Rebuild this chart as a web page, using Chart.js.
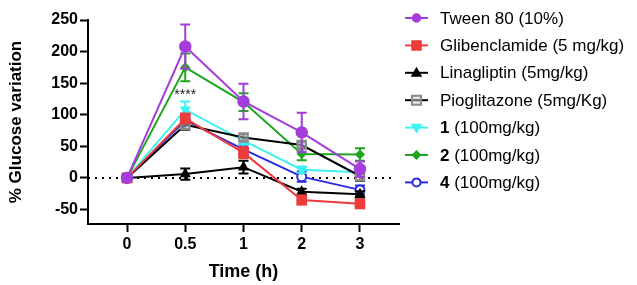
<!DOCTYPE html>
<html lang="en">
<head>
  <meta charset="UTF-8">
  <title>% Glucose variation</title>
  <script src="https://cdn.jsdelivr.net/npm/chart.js"></script>
  <style>
    html, body { margin: 0; padding: 0; background: #fff; }
    #wrap { width: 637px; height: 285px; position: relative; }
  </style>
</head>
<body>
  <div id="wrap"><canvas id="glucoseChart" width="637" height="285"></canvas></div>
  <script>
    // time points (category labels on x)
    const timeLabels = ['0', '0.5', '1', '2', '3'];
    const yTickValues = [-50, 0, 50, 100, 150, 200, 250];

    // mean values
    const tween = [0, 208, 121, 72, 14];
    const glib  = [0, 94, 40, -35, -41];
    const lina  = [0, 6, 17, -22, -26];
    const pio   = [0, 84, 64, 52, 3];
    const cmp1  = [0, 108, 59, 13, 9];
    const cmp2  = [0, 175, 120, 38, 37];
    const cmp4  = [0, 91, 45, 2, -19];

    // SEM
    const tweenErr = [4, 35, 28, 31, 12];
    const glibErr  = [3, 8, 9, 7, 4];
    const linaErr  = [2, 9, 10, 5, 5];
    const pioErr   = [3, 8, 5, 5, 8];
    const cmp1Err  = [2, 13, 6, 5, 4];
    const cmp2Err  = [2, 22, 14, 10, 10];
    const cmp4Err  = [2, 8, 8, 8, 7];

    const seriesNames = ['Tween 80 (10%)', 'Glibenclamide (5 mg/kg)', 'Linagliptin (5mg/kg)',
      'Pioglitazone (5mg/Kg)', '1 (100mg/kg)', '2 (100mg/kg)', '4 (100mg/kg)'];

    function pts(arr) { return arr.map((v, i) => ({ x: i, y: v })); }

    function mkSet(label, values, errs, color, extra) {
      return Object.assign({
        label: label,
        data: pts(values),
        errs: errs,
        borderColor: color,
        backgroundColor: color,
        pointBorderColor: color,
        pointBackgroundColor: color,
        borderWidth: 2,
        pointRadius: 5,
        pointBorderWidth: 1.5,
        tension: 0
      }, extra || {});
    }

    const datasets = [
      mkSet(seriesNames[0], tween, tweenErr, '#A43DDB', { pointStyle: 'circle', pointRadius: 5.5 }),
      mkSet(seriesNames[1], glib, glibErr, '#EE3B3B', { pointStyle: 'rect', pointRadius: 6.5 }),
      mkSet(seriesNames[2], lina, linaErr, '#000000', { pointStyle: 'triangle', pointRadius: 5 }),
      mkSet(seriesNames[3], pio, pioErr, '#000000', { pointStyle: 'rect', pointRadius: 6,
        pointBorderColor: '#8a8a8a', pointBackgroundColor: 'rgba(200,200,200,0.5)', pointBorderWidth: 2, errColor: '#555' }),
      mkSet(seriesNames[4], cmp1, cmp1Err, '#3CF2F2', { pointStyle: 'triangle', rotation: 180, pointRadius: 5 }),
      mkSet(seriesNames[5], cmp2, cmp2Err, '#1FA51F', { pointStyle: 'rectRot', pointRadius: 4 }),
      mkSet(seriesNames[6], cmp4, cmp4Err, '#2B2BE6', { pointStyle: 'circle', pointRadius: 4.5,
        pointBackgroundColor: '#ffffff', pointBorderWidth: 2 })
    ];

    // error bars, drawn under each dataset's own line and markers
    const errorBars = {
      id: 'errorBars',
      beforeDatasetDraw(chart, args) {
        const ds = chart.data.datasets[args.index];
        const x = chart.scales.x, y = chart.scales.y;
        const ctx = chart.ctx;
        ctx.save();
        ctx.strokeStyle = ds.errColor || ds.borderColor;
        ctx.lineWidth = 2;
        ds.data.forEach((p, i) => {
          const e = ds.errs[i];
          if (!e) return;
          const px = x.getPixelForValue(p.x);
          const top = y.getPixelForValue(p.y + e);
          const bot = y.getPixelForValue(p.y - e);
          ctx.beginPath();
          ctx.moveTo(px, top); ctx.lineTo(px, bot);
          ctx.moveTo(px - 5, top); ctx.lineTo(px + 5, top);
          ctx.moveTo(px - 5, bot); ctx.lineTo(px + 5, bot);
          ctx.stroke();
        });
        ctx.restore();
      }
    };

    // dotted zero line
    const zeroLine = {
      id: 'zeroLine',
      beforeDatasetsDraw(chart) {
        const ctx = chart.ctx, y = chart.scales.y.getPixelForValue(0);
        ctx.save();
        ctx.strokeStyle = '#000';
        ctx.lineWidth = 2;
        ctx.setLineDash([2, 5]);
        ctx.beginPath();
        ctx.moveTo(chart.chartArea.left, y);
        ctx.lineTo(chart.chartArea.right - 6, y);
        ctx.stroke();
        ctx.restore();
      }
    };

    // "****" above the 0.5 h point
    const sigMark = {
      id: 'sigMark',
      afterDatasetsDraw(chart) {
        const ctx = chart.ctx;
        ctx.save();
        ctx.fillStyle = '#222';
        ctx.font = '14px "Liberation Sans", Arial, sans-serif';
        ctx.textAlign = 'center';
        ctx.textBaseline = 'middle';
        ctx.fillText('****', chart.scales.x.getPixelForValue(1), chart.scales.y.getPixelForValue(136) + 3);
        ctx.restore();
      }
    };

    function drawMarker(ctx, ds, cx, cy) {
      const r = ds.pointRadius;
      ctx.fillStyle = ds.pointBackgroundColor;
      ctx.strokeStyle = ds.pointBorderColor;
      ctx.lineWidth = ds.pointBorderWidth;
      ctx.beginPath();
      if (ds.pointStyle === 'circle') {
        ctx.arc(cx, cy, 4, 0, Math.PI * 2);
      } else if (ds.pointStyle === 'rect') {
        const s = 4.5;
        ctx.rect(cx - s, cy - s, 2 * s, 2 * s);
      } else if (ds.pointStyle === 'rectRot') {
        ctx.moveTo(cx, cy - r); ctx.lineTo(cx + r, cy); ctx.lineTo(cx, cy + r); ctx.lineTo(cx - r, cy);
        ctx.closePath();
      } else if (ds.pointStyle === 'triangle') {
        const d = ds.rotation === 180 ? -1 : 1;
        const s = r * 0.9;
        ctx.moveTo(cx, cy - d * s); ctx.lineTo(cx + s, cy + d * s * 0.7); ctx.lineTo(cx - s, cy + d * s * 0.7);
        ctx.closePath();
      }
      ctx.fill();
      ctx.stroke();
    }

    // legend on the right, with bold compound numbers
    const sideLegend = {
      id: 'sideLegend',
      afterDraw(chart) {
        const ctx = chart.ctx;
        const x0 = 405, x1 = 428, tx = 440, y0 = 18, step = 27.4;
        ctx.save();
        chart.data.datasets.forEach((ds, i) => {
          const cy = y0 + i * step;
          ctx.strokeStyle = ds.borderColor;
          ctx.lineWidth = 2;
          ctx.beginPath(); ctx.moveTo(x0, cy); ctx.lineTo(x1, cy); ctx.stroke();
          drawMarker(ctx, ds, (x0 + x1) / 2, cy);
          ctx.fillStyle = '#000';
          ctx.textBaseline = 'middle';
          ctx.textAlign = 'left';
          const m = ds.label.match(/^(\d)( .*)$/);
          if (m) {
            ctx.font = 'bold 17px "Liberation Sans", Arial, sans-serif';
            ctx.fillText(m[1], tx, cy + 1);
            const w = ctx.measureText(m[1]).width;
            ctx.font = '17px "Liberation Sans", Arial, sans-serif';
            ctx.fillText(m[2], tx + w, cy + 1);
          } else {
            ctx.font = '17px "Liberation Sans", Arial, sans-serif';
            ctx.fillText(ds.label, tx, cy + 1);
          }
        });
        ctx.restore();
      }
    };

    const tickFont = { family: '"Liberation Sans", Arial, sans-serif', size: 16, weight: 'bold' };

    new Chart(document.getElementById('glucoseChart'), {
      type: 'line',
      data: { datasets: datasets },
      plugins: [zeroLine, errorBars, sigMark, sideLegend],
      options: {
        responsive: false,
        animation: false,
        layout: { padding: { top: 20, right: 238, left: 4, bottom: 2 } },
        plugins: { legend: { display: false }, tooltip: { enabled: false } },
        scales: {
          x: {
            type: 'linear',
            min: -0.67,
            max: 4.67,
            afterBuildTicks: axis => { axis.ticks = timeLabels.map((_, i) => ({ value: i })); },
            afterFit: axis => { axis.height = 59; },
            ticks: { color: '#000', font: tickFont, padding: 3, callback: v => timeLabels[v] },
            grid: { drawOnChartArea: false, drawTicks: true, tickLength: 8, tickWidth: 2, tickColor: '#000' },
            border: { display: true, width: 2, color: '#000' },
            title: { display: true, text: 'Time (h)', color: '#000',
              font: { family: '"Liberation Sans", Arial, sans-serif', size: 18, weight: 'bold' }, padding: { top: 0, bottom: 0 } }
          },
          y: {
            min: -73,
            max: 250,
            afterBuildTicks: axis => { axis.ticks = yTickValues.map(v => ({ value: v })); },
            afterFit: axis => { axis.width = 84; },
            ticks: { color: '#000', font: tickFont, padding: 2 },
            grid: { drawOnChartArea: false, drawTicks: true, tickLength: 8, tickWidth: 2, tickColor: '#000' },
            border: { display: true, width: 2, color: '#000' },
            title: { display: true, text: '% Glucose variation', color: '#000',
              font: { family: '"Liberation Sans", Arial, sans-serif', size: 17, weight: 'bold' }, padding: { top: 2, bottom: 0 } }
          }
        }
      }
    });
  </script>
</body>
</html>
